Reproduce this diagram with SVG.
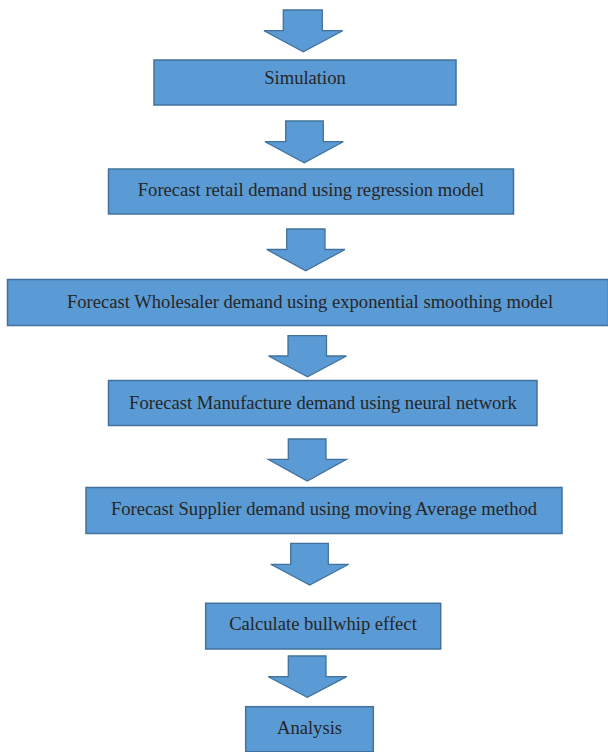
<svg xmlns="http://www.w3.org/2000/svg" width="608" height="752" viewBox="0 0 608 752">
<style>
.box{fill:#5B9BD5;stroke:#41719C;stroke-width:1.5}
.arr{fill:#5B9BD5;stroke:#41719C;stroke-width:1.3;stroke-linejoin:miter}
.lbl{font-family:"Liberation Serif","Times New Roman",serif;font-size:18.6px;fill:#262626;text-anchor:middle}
</style>
<rect width="608" height="752" fill="#ffffff"/>
<g id="connectors">
<path class="arr" d="M283.3,10 H322.3 V30.7 H342.7 L303.3,51.7 L264,30.7 H283.3 Z"/>
<path class="arr" d="M285.7,121 H323.3 V141.7 H343.3 L304.3,162.7 L265,141.7 H285.7 Z"/>
<path class="arr" d="M286.7,229 H325 V249.5 H345 L305.7,270.7 L266.7,249.5 H286.7 Z"/>
<path class="arr" d="M288,335.7 H326.5 V356 H346.5 L307.5,376.7 L268.5,356 H288 Z"/>
<path class="arr" d="M288.3,439 H326 V459.3 H346.3 L307.3,481 L268.3,459.3 H288.3 Z"/>
<path class="arr" d="M290.7,543.3 H328.3 V564.3 H348.7 L309.7,585 L270.7,564.3 H290.7 Z"/>
<path class="arr" d="M288.3,656 H326 V676.7 H346.7 L307.3,697.3 L268.3,676.7 H288.3 Z"/>
</g>
<g id="n1"><rect class="box" x="154" y="60" width="302" height="45"/><text class="lbl" x="305" y="84">Simulation</text></g>
<g id="n2"><rect class="box" x="108.5" y="169" width="405" height="45"/><text class="lbl" x="311" y="196">Forecast retail demand using regression model</text></g>
<g id="n3"><rect class="box" x="7.5" y="279.5" width="601" height="46"/><text class="lbl" x="310" y="307.5">Forecast Wholesaler demand using exponential smoothing model</text></g>
<g id="n4"><rect class="box" x="108.5" y="380.5" width="428.5" height="45"/><text class="lbl" x="323" y="408.5">Forecast Manufacture demand using neural network</text></g>
<g id="n5"><rect class="box" x="86" y="487.5" width="476" height="46"/><text class="lbl" x="324" y="515">Forecast Supplier demand using moving Average method</text></g>
<g id="n6"><rect class="box" x="205.7" y="603.3" width="235" height="45.7"/><text class="lbl" x="323" y="630">Calculate bullwhip effect</text></g>
<g id="n7"><rect class="box" x="245.7" y="706.7" width="127.6" height="45"/><text class="lbl" x="309.5" y="733.5">Analysis</text></g>
</svg>
